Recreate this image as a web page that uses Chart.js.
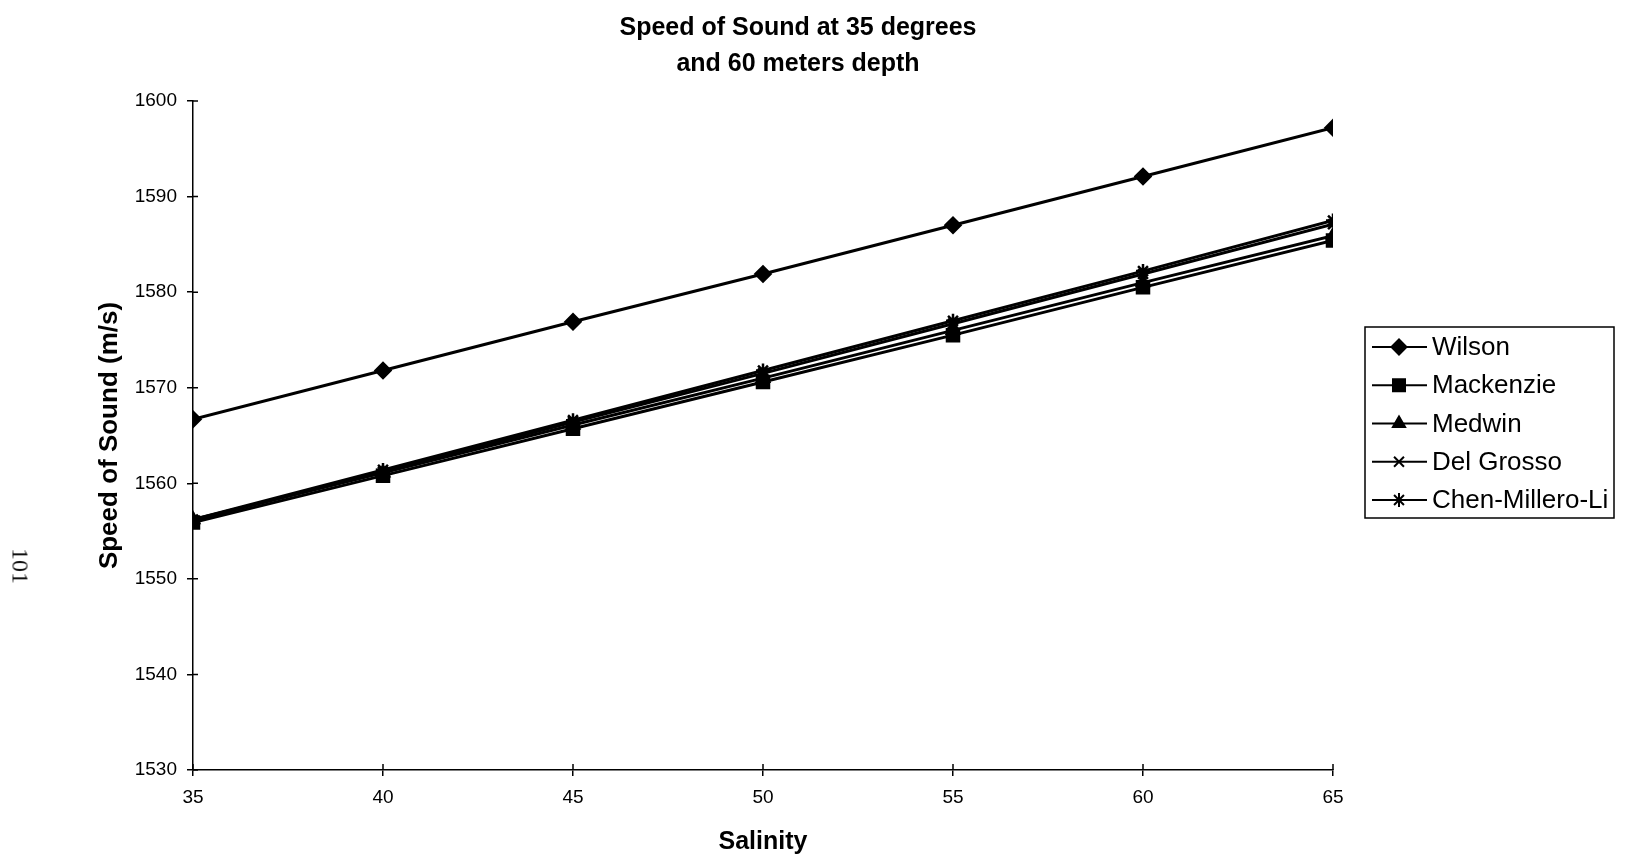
<!DOCTYPE html>
<html>
<head>
<meta charset="utf-8">
<title>Speed of Sound at 35 degrees and 60 meters depth</title>
<script src="https://cdn.jsdelivr.net/npm/chart.js@4.4.1/dist/chart.umd.min.js"></script>
<style>
  body { margin: 0; background: #fff; }
  #wrap { position: relative; width: 1627px; height: 858px; }
  #pageno {
    position: absolute; left: 20px; top: 566px;
    transform: translate(-50%, -50%) rotate(90deg);
    font-family: "Liberation Serif", "DejaVu Serif", serif; font-size: 24px; color: #111;
  }
</style>
</head>
<body>
<div id="wrap">
  <canvas id="chart"></canvas>
  <div id="pageno">101</div>
</div>
<script>
// salinity (x) and speed of sound (m/s) for each equation
const salinity  = [35, 40, 45, 50, 55, 60, 65];
const wilson    = [1566.7, 1571.8, 1576.9, 1581.9, 1587.0, 1592.1, 1597.2];
const mackenzie = [1555.9, 1560.8, 1565.7, 1570.6, 1575.5, 1580.5, 1585.4];
const medwin    = [1556.2, 1561.1, 1566.1, 1571.0, 1576.0, 1581.0, 1585.9];
const delGrosso = [1556.1, 1561.2, 1566.4, 1571.5, 1576.7, 1581.9, 1587.1];
const chenMillero = [1556.2, 1561.4, 1566.6, 1571.8, 1577.0, 1582.2, 1587.5];
const titleLines = ['Speed of Sound at 35 degrees', 'and 60 meters depth'];

const FONT = '"Liberation Sans", Arial, sans-serif';
const pts = arr => arr.map((v, i) => ({ x: salinity[i], y: v }));

function series(label, values, style, radius){
  return {
    label, data: pts(values),
    borderColor: '#000', backgroundColor: '#000',
    borderWidth: 3, tension: 0,
    pointStyle: style, pointRadius: radius, pointHoverRadius: radius,
    pointBorderWidth: 2.5, pointBorderColor: '#000', pointBackgroundColor: '#000'
  };
}

// title drawn centred over the page, not just over the plot
const titlePlugin = {
  id: 'titlePlugin',
  afterDraw(chart){
    const ctx = chart.ctx;
    ctx.save();
    ctx.font = 'bold 25px ' + FONT;
    ctx.fillStyle = '#000';
    ctx.textAlign = 'center';
    ctx.textBaseline = 'middle';
    titleLines.forEach((t, i) => ctx.fillText(t, 798, 28 + i * 36));
    ctx.restore();
  }
};

// tick marks that cross the axis line (Chart.js only draws the outer half)
const innerTicks = {
  id: 'innerTicks',
  afterDatasetsDraw(chart){
    const { ctx, chartArea: a, scales: { x, y } } = chart;
    ctx.save();
    ctx.strokeStyle = '#000'; ctx.lineWidth = 1.5;
    ctx.beginPath();
    y.ticks.forEach(t => { const p = y.getPixelForValue(t.value); ctx.moveTo(a.left, p); ctx.lineTo(a.left + 5, p); });
    x.ticks.forEach(t => { const p = x.getPixelForValue(t.value); ctx.moveTo(p, a.bottom); ctx.lineTo(p, a.bottom - 6); });
    ctx.stroke();
    ctx.restore();
  }
};

// boxed legend with line + marker samples
const legendBox = {
  id: 'legendBox',
  afterDraw(chart){
    const ctx = chart.ctx;
    const x0 = 1365, y0 = 327, w = 249, h = 191;
    ctx.save();
    ctx.strokeStyle = '#000'; ctx.lineWidth = 1.5;
    ctx.strokeRect(x0, y0, w, h);
    ctx.font = '26px ' + FONT;
    ctx.textBaseline = 'middle';
    chart.data.datasets.forEach((ds, i) => {
      const y = y0 + 20 + i * 38.25;
      ctx.strokeStyle = '#000'; ctx.fillStyle = '#000'; ctx.lineWidth = 2;
      ctx.beginPath(); ctx.moveTo(x0 + 7, y); ctx.lineTo(x0 + 62, y); ctx.stroke();
      Chart.helpers.drawPoint(ctx, { pointStyle: ds.pointStyle, radius: ds.pointRadius, borderWidth: 2.5, rotation: 0 }, x0 + 34, y);
      ctx.fillText(ds.label, x0 + 67, y + 1);
    });
    ctx.restore();
  }
};

const axisGrid = { display: true, drawOnChartArea: false, drawTicks: true, tickLength: 6, color: '#000', lineWidth: 1.5 };
const axisBorder = { display: true, color: '#000', width: 1.5 };
const plainNum = v => String(v);

new Chart(document.getElementById('chart'), {
  type: 'line',
  data: {
    datasets: [
      series('Wilson', wilson, 'rectRot', 7.5),
      series('Mackenzie', mackenzie, 'rect', 8.5),
      series('Medwin', medwin, 'triangle', 7),
      series('Del Grosso', delGrosso, 'crossRot', 7),
      series('Chen-Millero-Li', chenMillero, 'star', 7)
    ]
  },
  options: {
    responsive: true,
    maintainAspectRatio: false,
    animation: false,
    layout: { padding: { top: 101, right: 294, left: 0, bottom: 0 } },
    plugins: { legend: { display: false }, title: { display: false }, tooltip: { enabled: false } },
    scales: {
      x: {
        type: 'linear', min: 35, max: 65,
        ticks: { stepSize: 5, color: '#000', font: { family: FONT, size: 19 }, padding: 10, callback: plainNum },
        grid: axisGrid, border: axisBorder,
        title: { display: true, text: 'Salinity', color: '#000', font: { family: FONT, size: 25, weight: 'bold' }, padding: { top: 0, bottom: 1 } },
        afterFit: s => { s.height = 88; }
      },
      y: {
        min: 1530, max: 1600,
        ticks: { stepSize: 10, color: '#000', font: { family: FONT, size: 19 }, padding: 10, callback: plainNum },
        grid: axisGrid, border: axisBorder,
        title: { display: true, text: 'Speed of Sound (m/s)', color: '#000', font: { family: FONT, size: 26, weight: 'bold' }, padding: { top: 94, bottom: 0 } },
        afterFit: s => { s.width = 193; }
      }
    }
  },
  plugins: [titlePlugin, innerTicks, legendBox]
});
</script>
</body>
</html>
